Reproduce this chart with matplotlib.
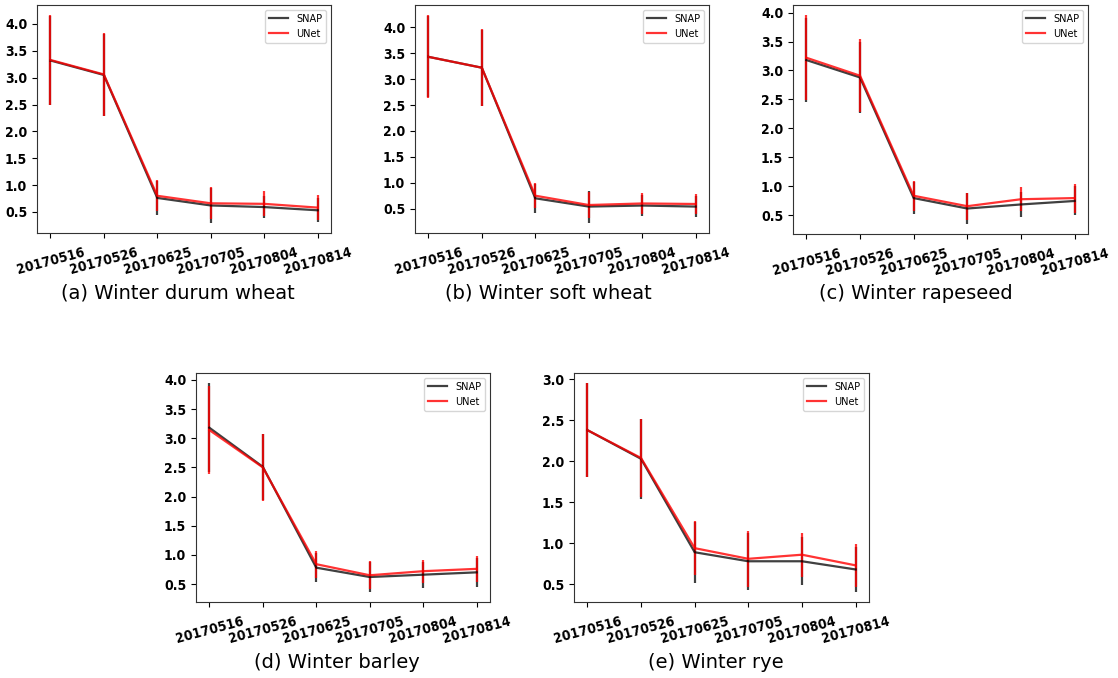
"""Mean value per acquisition date, SNAP vs UNet, for five winter crops."""

import matplotlib
matplotlib.use('Agg')
import matplotlib.pyplot as plt
from matplotlib.ticker import MultipleLocator
import numpy as np

plt.rcParams['font.family'] = ['DejaVu Sans']

dates = ['20170516', '20170526', '20170625', '20170705', '20170804', '20170814']

captions = ['(a) Winter durum wheat', '(b) Winter soft wheat', '(c) Winter rapeseed',
            '(d) Winter barley', '(e) Winter rye']

# mean and std per date, one row per crop
snap_mean = [
    [3.32, 3.05, 0.76, 0.62, 0.59, 0.53],
    [3.43, 3.22, 0.70, 0.54, 0.56, 0.54],
    [3.18, 2.88, 0.80, 0.62, 0.69, 0.75],
    [3.18, 2.51, 0.78, 0.62, 0.66, 0.70],
    [2.38, 2.03, 0.89, 0.78, 0.78, 0.68],
]
snap_std = [
    [0.82, 0.76, 0.31, 0.32, 0.21, 0.22],
    [0.78, 0.73, 0.28, 0.31, 0.21, 0.21],
    [0.72, 0.62, 0.28, 0.26, 0.22, 0.25],
    [0.76, 0.57, 0.25, 0.25, 0.22, 0.25],
    [0.57, 0.49, 0.37, 0.35, 0.29, 0.27],
]
unet_mean = [
    [3.33, 3.06, 0.80, 0.66, 0.65, 0.58],
    [3.43, 3.22, 0.75, 0.57, 0.60, 0.59],
    [3.22, 2.91, 0.84, 0.66, 0.78, 0.80],
    [3.14, 2.50, 0.84, 0.65, 0.72, 0.76],
    [2.38, 2.04, 0.94, 0.81, 0.86, 0.73],
]
unet_std = [
    [0.83, 0.78, 0.29, 0.30, 0.23, 0.23],
    [0.80, 0.74, 0.24, 0.26, 0.21, 0.20],
    [0.73, 0.63, 0.26, 0.23, 0.21, 0.25],
    [0.75, 0.58, 0.23, 0.24, 0.20, 0.22],
    [0.57, 0.48, 0.33, 0.34, 0.27, 0.26],
]

W, H = 1118, 678
# axes boxes in pixels: left, right, top, bottom
boxes = [(37, 331, 5, 233), (415, 709, 5, 233), (793, 1088, 5, 234),
         (196, 490, 373, 602), (574, 869, 373, 602)]
caption_pos = [(178, 293), (548, 293), (916, 293), (337, 662), (716, 662)]

fig = plt.figure(figsize=(W / 100, H / 100), dpi=100, facecolor='white')
x = np.arange(len(dates))

for i, (l, r, t, b) in enumerate(boxes):
    ax = fig.add_axes([l / W, 1 - b / H, (r - l) / W, (b - t) / H])
    ax.errorbar(x, snap_mean[i], yerr=snap_std[i], color='k', alpha=0.75,
                lw=1.6, elinewidth=1.6, label='SNAP')
    ax.errorbar(x, unet_mean[i], yerr=unet_std[i], color='r', alpha=0.8,
                lw=1.6, elinewidth=1.6, label='UNet')
    ax.yaxis.set_major_locator(MultipleLocator(0.5))
    ax.set_xticks(x)
    ax.set_xticklabels(dates, rotation=15, fontsize=10, fontweight='bold',
                       fontstretch='condensed')
    ax.tick_params(axis='x', pad=5)
    ax.tick_params(axis='y', labelsize=10)
    for lab in ax.get_yticklabels():
        lab.set_fontweight('bold')
        lab.set_fontstretch('condensed')
    handles, labels = ax.get_legend_handles_labels()
    handles = [h[0] for h in handles]
    ax.legend(handles, labels, loc='upper right', fontsize=7, handlelength=2.0)
    for sp in ax.spines.values():
        sp.set_color('#333333')
    cx, cy = caption_pos[i]
    fig.text(cx / W, 1 - cy / H, captions[i], ha='center', va='center', fontsize=14)

fig.savefig('out.png', dpi=100, facecolor='white')
